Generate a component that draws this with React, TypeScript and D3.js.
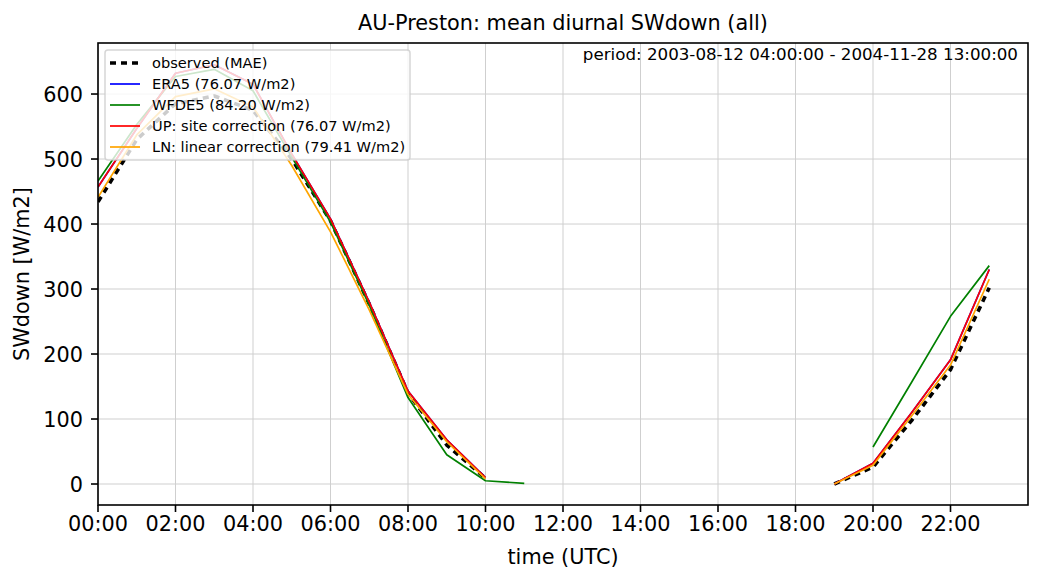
import React from "react";
import * as d3 from "d3";

const hours: number[] = d3.range(0, 24);
const N = NaN;
const observed: number[] = [434, 530, 585, 597, 575, 500, 405, 277, 140, 60, 9, N, N, N, N, N, N, N, N, 0, 26, 98, 176, 302];
const era5: number[] = [457, 547, 632, 645, 615, 508, 408, 280, 143, 68, 10, N, N, N, N, N, N, N, N, 0, 32, 110, 191, 330];
const wfde5: number[] = [466, 553, 627, 638, 605, 503, 403, 275, 133, 45, 5, 1, N, N, N, N, N, N, N, N, 57, 157, 258, 336];
const upSite: number[] = [457, 547, 632, 645, 615, 508, 408, 280, 143, 68, 10, N, N, N, N, N, N, N, N, 0, 32, 110, 191, 330];
const lnLinear: number[] = [441, 537, 596, 608, 580, 490, 388, 268, 138, 65, 8, N, N, N, N, N, N, N, N, 0, 29, 105, 183, 315];

const xTickValues: number[] = [0, 2, 4, 6, 8, 10, 12, 14, 16, 18, 20, 22];
const xTickLabels: string[] = ["00:00", "02:00", "04:00", "06:00", "08:00", "10:00", "12:00", "14:00", "16:00", "18:00", "20:00", "22:00"];
const yTickValues: number[] = [0, 100, 200, 300, 400, 500, 600];

const legendLabels: string[] = [
  "observed (MAE)",
  "ERA5 (76.07 W/m2)",
  "WFDE5 (84.20 W/m2)",
  "UP: site correction (76.07 W/m2)",
  "LN: linear correction (79.41 W/m2)",
];

const W = 1042, H = 583;
const L = 98, R = 1028, T = 43, B = 505;
const FONT = "'DejaVu Sans', sans-serif";
const FS = 20.8;

export default function App() {
  const x = d3.scaleLinear().domain([0, 24]).range([L, R]);
  const y = d3.scaleLinear().domain([-32.3, 678.5]).range([B, T]);

  const mk = (vals: number[]) =>
    d3
      .line<number>()
      .defined((d) => !isNaN(d))
      .x((_, i) => x(hours[i]))
      .y((d) => y(d))(vals) || "";

  const series = [
    { vals: observed, color: "#000000", width: 3.6, dash: "6,5" },
    { vals: era5, color: "#0000ff", width: 1.7, dash: undefined },
    { vals: wfde5, color: "#008000", width: 1.7, dash: undefined },
    { vals: upSite, color: "#ff0000", width: 1.7, dash: undefined },
    { vals: lnLinear, color: "#ffa500", width: 1.7, dash: undefined },
  ];

  const legX = 105, legY = 50, legW = 305, legH = 110;
  const rowY = [63, 84, 105, 126, 147];

  return (
    <svg width={W} height={H} style={{ position: "absolute", left: 0, top: 0, background: "#fff" }} fontFamily={FONT}>
      <rect x={0} y={0} width={W} height={H} fill="#fff" />
      <defs>
        <clipPath id="plot">
          <rect x={L} y={T} width={R - L} height={B - T} />
        </clipPath>
      </defs>
      {/* grid */}
      <g stroke="#cfcfcf" strokeWidth={1}>
        {xTickValues.map((v) => (
          <line key={"gx" + v} x1={x(v)} x2={x(v)} y1={T} y2={B} />
        ))}
        {yTickValues.map((v) => (
          <line key={"gy" + v} x1={L} x2={R} y1={y(v)} y2={y(v)} />
        ))}
      </g>
      {/* series */}
      <g clipPath="url(#plot)" fill="none">
        {series.map((s, i) => (
          <path key={i} d={mk(s.vals)} stroke={s.color} strokeWidth={s.width} strokeDasharray={s.dash} strokeLinejoin="round" />
        ))}
      </g>
      {/* spines */}
      <rect x={L} y={T} width={R - L} height={B - T} fill="none" stroke="#000" strokeWidth={1.6} />
      {/* x ticks */}
      {xTickValues.map((v, i) => (
        <g key={"xt" + v}>
          <line x1={x(v)} x2={x(v)} y1={B} y2={B + 7} stroke="#000" strokeWidth={1.6} />
          <text x={x(v)} y={531} fontSize={FS} textAnchor="middle" fill="#000">
            {xTickLabels[i]}
          </text>
        </g>
      ))}
      {/* y ticks */}
      {yTickValues.map((v) => (
        <g key={"yt" + v}>
          <line x1={L - 7} x2={L} y1={y(v)} y2={y(v)} stroke="#000" strokeWidth={1.6} />
          <text x={83} y={y(v) + 7.5} fontSize={FS} textAnchor="end" fill="#000">
            {v}
          </text>
        </g>
      ))}
      {/* labels */}
      <text x={(L + R) / 2} y={564} fontSize={FS} textAnchor="middle" fill="#000">
        time (UTC)
      </text>
      <text transform={`translate(29, ${(T + B) / 2}) rotate(-90)`} fontSize={FS} textAnchor="middle" fill="#000">
        SWdown [W/m2]
      </text>
      <text x={(L + R) / 2} y={30} fontSize={FS} textAnchor="middle" fill="#000">
        AU-Preston: mean diurnal SWdown (all)
      </text>
      <text x={1018} y={60} fontSize={16.7} textAnchor="end" fill="#000">
        period: 2003-08-12 04:00:00 - 2004-11-28 13:00:00
      </text>
      {/* legend */}
      <rect x={legX} y={legY} width={legW} height={legH} rx={3} fill="#fff" fillOpacity={0.8} stroke="#cccccc" strokeOpacity={0.8} strokeWidth={1.5} />
      {series.map((s, i) => (
        <g key={"lg" + i}>
          <line x1={110} x2={140} y1={rowY[i]} y2={rowY[i]} stroke={s.color} strokeWidth={s.width} strokeDasharray={s.dash} />
          <text x={152} y={rowY[i] + 5.3} fontSize={14.6} fill="#000">
            {legendLabels[i]}
          </text>
        </g>
      ))}
    </svg>
  );
}
